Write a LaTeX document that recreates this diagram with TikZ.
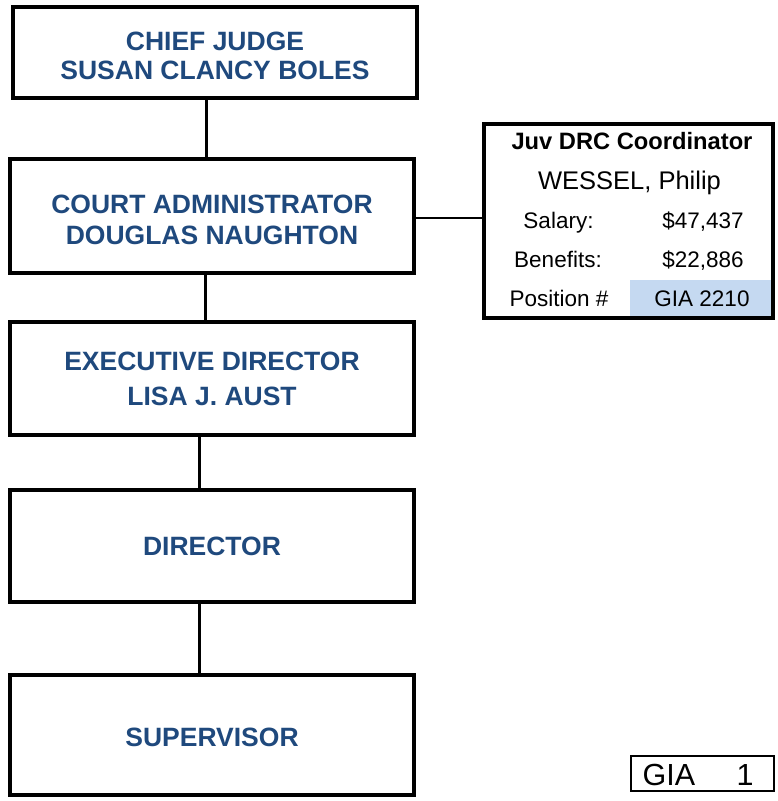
\documentclass[tikz,border=0pt]{standalone}
\usepackage{fontspec}
\setmainfont{Liberation Sans}
\usepackage{xcolor}
\usetikzlibrary{positioning,calc}
\definecolor{chartblue}{RGB}{31,73,125}
\definecolor{cellblue}{RGB}{197,217,241}

\begin{document}
\begin{tikzpicture}[x=1pt,y=-1pt,
    box/.style={draw,line width=4pt,minimum width=404pt,align=center,text=chartblue,
                font=\fontsize{26.5}{31}\selectfont\bfseries},
    vline/.style={line width=3pt},
    hline/.style={line width=2pt},
    cell/.style={anchor=base,inner sep=0pt,font=\fontsize{22.5}{27}\selectfont}]
    \useasboundingbox (0,0) rectangle (778,801);
    % Chain of command
    \node[box,minimum height=91pt,font=\fontsize{26.5}{29}\selectfont\bfseries] (cj) at (215,52.5)
        {\rule{0pt}{26pt}CHIEF JUDGE\\SUSAN CLANCY BOLES};
    \node[box,minimum height=114pt] (ca) at (212,216)
        {\rule{0pt}{27pt}COURT ADMINISTRATOR\\DOUGLAS NAUGHTON};
    \node[box,minimum height=113pt,font=\fontsize{26.5}{35}\selectfont\bfseries] (ed) at (212,378.5)
        {\rule{0pt}{20pt}EXECUTIVE DIRECTOR\\LISA J. AUST};
    \node[box,minimum height=112pt] (dir) at (212,546) {DIRECTOR};
    \node[box,minimum height=120pt] (sup) at (212,735) {\rule{0pt}{24pt}SUPERVISOR};
    \draw[vline] ([xshift=-9pt]cj.south) -- ([xshift=-9pt]cj.south |- ca.north);
    \draw[vline] ([xshift=-7pt]ca.south) -- ([xshift=-7pt]ca.south |- ed.north);
    \draw[vline] ([xshift=-13pt]ed.south) -- ([xshift=-13pt]ed.south |- dir.north);
    \draw[vline] ([xshift=-13pt]dir.south) -- ([xshift=-13pt]dir.south |- sup.north);
    % Position card
    \fill[cellblue] (630,280) rectangle (771,317);
    \node[draw,line width=4pt,minimum width=289pt,minimum height=194pt] (drc) at (628.5,221) {};
    \draw[hline] ([yshift=-2pt]ca.east) -- ([yshift=-2pt]ca.east -| drc.west);
    \node[cell,font=\fontsize{23.7}{28}\selectfont\bfseries] (title) at (632,149) {Juv DRC Coordinator};
    \node[cell,font=\fontsize{25.5}{30}\selectfont] (name) at (629.5,189) {WESSEL, Philip};
    \node[cell] (sal) at (558.5,228) {Salary:};
    \node[cell] (salv) at (703,228) {\$47,437};
    \node[cell] (ben) at (558,267) {Benefits:};
    \node[cell] (benv) at (703,267) {\$22,886};
    \node[cell] (pos) at (559,306) {Position \#};
    \node[cell] (posv) at (702,306) {GIA 2210};
    % Page tag
    \node[draw,line width=2.5pt,minimum width=143pt,minimum height=35pt] (gia) at (702.5,773.5) {};
    \node[cell,font=\fontsize{30.5}{36}\selectfont] (giat) at (669,785) {GIA};
    \node[cell,font=\fontsize{30.5}{36}\selectfont] (gian) at (745,785) {1};
\end{tikzpicture}
\end{document}
